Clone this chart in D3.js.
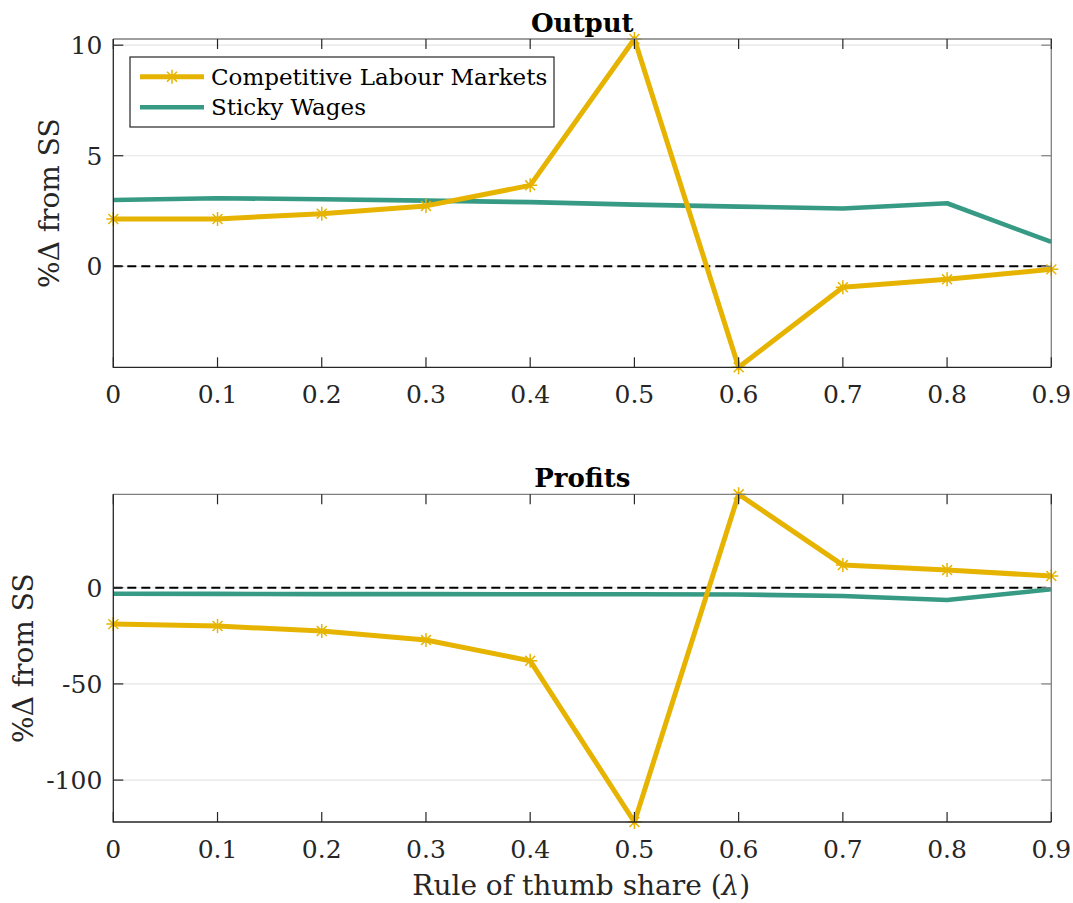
<!DOCTYPE html>
<html>
<head>
<meta charset="utf-8">
<script src="https://cdn.jsdelivr.net/npm/d3@7"></script>
<style>
  body { margin: 0; background: #fff; }
  svg { display: block; font-family: "DejaVu Serif", serif; }
</style>
</head>
<body>
<div id="chart"></div>
<script>
// Rule of thumb share (lambda)
const lambdas = [0, 0.1, 0.2, 0.3, 0.4, 0.5, 0.6, 0.7, 0.8, 0.9];
const xTickLabels = ['0', '0.1', '0.2', '0.3', '0.4', '0.5', '0.6', '0.7', '0.8', '0.9'];

// Output, % change from steady state
const outputCompetitive = [2.14, 2.14, 2.38, 2.73, 3.66, 10.28, -4.57, -0.95, -0.59, -0.14];
const outputSticky = [3.0, 3.08, 3.03, 2.97, 2.9, 2.79, 2.7, 2.61, 2.85, 1.1];
const outputTicks = [0, 5, 10];

// Profits, % change from steady state
const profitsCompetitive = [-18.9, -19.9, -22.5, -27.2, -38.0, -121.8, 48.6, 11.8, 9.2, 6.1];
const profitsSticky = [-3.1, -3.2, -3.3, -3.3, -3.4, -3.4, -3.5, -4.3, -6.4, -0.8];
const profitsTicks = [-100, -50, 0];

const seriesNames = ['Competitive Labour Markets', 'Sticky Wages'];
const colors = { comp: '#e6b400', sticky: '#379a84' };

const W = 1073, H = 903;
const left = 113.3, right = 1051.3;

const svg = d3.select('#chart').append('svg')
  .attr('width', W).attr('height', H);

const x = d3.scaleLinear().domain([0, 0.9]).range([left, right]);

// asterisk marker path
function star(r) {
  const d = r * Math.SQRT1_2;
  return `M0,${-r}V${r}M${-r},0H${r}M${-d},${-d}L${d},${d}M${-d},${d}L${d},${-d}`;
}

function panel(cfg) {
  const { top, bottom, comp, sticky, ticks, title, titleY, ylabX } = cfg;
  const all = comp.concat(sticky);
  const y = d3.scaleLinear().domain(d3.extent(all)).range([bottom, top]);
  const g = svg.append('g');

  // grid
  g.selectAll('.grid').data(ticks).enter().append('line')
    .attr('x1', left).attr('x2', right)
    .attr('y1', d => y(d)).attr('y2', d => y(d))
    .attr('stroke', '#e5e5e5').attr('stroke-width', 1.2);

  // zero line
  g.append('line')
    .attr('x1', left).attr('x2', right)
    .attr('y1', y(0)).attr('y2', y(0))
    .attr('stroke', '#000').attr('stroke-width', 2)
    .attr('stroke-dasharray', '9,5');

  const line = vals => d3.line().x((d, i) => x(lambdas[i])).y(d => y(d))(vals);

  g.append('path').attr('d', line(sticky))
    .attr('fill', 'none').attr('stroke', colors.sticky)
    .attr('stroke-width', 4.6).attr('stroke-linejoin', 'round');

  g.append('path').attr('d', line(comp))
    .attr('fill', 'none').attr('stroke', colors.comp)
    .attr('stroke-width', 5).attr('stroke-linejoin', 'round');

  g.selectAll('.mk').data(comp).enter().append('path')
    .attr('transform', (d, i) => `translate(${x(lambdas[i])},${y(d)})`)
    .attr('d', star(7))
    .attr('fill', 'none').attr('stroke', colors.comp).attr('stroke-width', 1.5);

  // box: top/right lighter
  g.append('path')
    .attr('d', `M${left},${top}H${right}V${bottom}`)
    .attr('fill', 'none').attr('stroke', '#808080').attr('stroke-width', 1.3);
  g.append('path')
    .attr('d', `M${left},${top}V${bottom}H${right}`)
    .attr('fill', 'none').attr('stroke', '#262626').attr('stroke-width', 1.3);

  // x ticks (inward, bottom and top)
  const xt = g.selectAll('.xt').data(lambdas).enter();
  xt.append('line')
    .attr('x1', d => x(d)).attr('x2', d => x(d))
    .attr('y1', bottom).attr('y2', bottom - 10)
    .attr('stroke', '#262626').attr('stroke-width', 1.2);
  xt.append('line')
    .attr('x1', d => x(d)).attr('x2', d => x(d))
    .attr('y1', top).attr('y2', top + 10)
    .attr('stroke', '#262626').attr('stroke-width', 1.2);
  xt.append('text')
    .attr('x', d => x(d)).attr('y', bottom + 36)
    .attr('text-anchor', 'middle')
    .attr('font-size', 25).attr('fill', '#262626')
    .text((d, i) => xTickLabels[i]);

  // y ticks
  const yt = g.selectAll('.yt').data(ticks).enter();
  yt.append('line')
    .attr('x1', left).attr('x2', left + 10)
    .attr('y1', d => y(d)).attr('y2', d => y(d))
    .attr('stroke', '#262626').attr('stroke-width', 1.2);
  yt.append('line')
    .attr('x1', right).attr('x2', right - 10)
    .attr('y1', d => y(d)).attr('y2', d => y(d))
    .attr('stroke', '#808080').attr('stroke-width', 1.2);
  yt.append('text')
    .attr('x', left - 11).attr('y', d => y(d))
    .attr('dy', '0.36em')
    .attr('text-anchor', 'end')
    .attr('font-size', 25).attr('fill', '#262626')
    .text(d => d);

  // title
  g.append('text')
    .attr('x', (left + right) / 2).attr('y', titleY)
    .attr('text-anchor', 'middle')
    .attr('font-size', 26).attr('font-weight', 'bold').attr('fill', '#000')
    .text(title);

  // y label
  g.append('text')
    .attr('transform', `translate(${ylabX},${(top + bottom) / 2}) rotate(-90)`)
    .attr('text-anchor', 'middle')
    .attr('font-size', 28).attr('fill', '#262626')
    .text('%\u0394 from SS');
}

panel({
  top: 39, bottom: 367.3,
  comp: outputCompetitive, sticky: outputSticky,
  ticks: outputTicks, title: 'Output', titleY: 31.5, ylabX: 59
});

panel({
  top: 494.3, bottom: 822,
  comp: profitsCompetitive, sticky: profitsSticky,
  ticks: profitsTicks, title: 'Profits', titleY: 486.5, ylabX: 33
});

// x axis label
const xl = svg.append('text')
  .attr('x', (left + right) / 2 - 1).attr('y', 895)
  .attr('text-anchor', 'middle')
  .attr('font-size', 28).attr('fill', '#262626');
xl.append('tspan').text('Rule of thumb share (');
xl.append('tspan').attr('font-style', 'italic').text('\u03bb');
xl.append('tspan').text(')');

// legend
const leg = svg.append('g');
leg.append('rect')
  .attr('x', 130).attr('y', 57).attr('width', 424).attr('height', 70)
  .attr('fill', '#fff').attr('stroke', '#262626').attr('stroke-width', 1.2);

const legRows = [
  { name: seriesNames[0], color: colors.comp, w: 5, marker: true, y: 76.7 },
  { name: seriesNames[1], color: colors.sticky, w: 4.6, marker: false, y: 107.3 }
];
legRows.forEach(r => {
  leg.append('line')
    .attr('x1', 140).attr('x2', 204).attr('y1', r.y).attr('y2', r.y)
    .attr('stroke', r.color).attr('stroke-width', r.w);
  if (r.marker) {
    leg.append('path')
      .attr('transform', `translate(172,${r.y})`)
      .attr('d', star(7))
      .attr('fill', 'none').attr('stroke', r.color).attr('stroke-width', 1.5);
  }
  leg.append('text')
    .attr('x', 211).attr('y', r.y).attr('dy', '0.35em')
    .attr('font-size', 23).attr('fill', '#000')
    .text(r.name);
});
</script>
</body>
</html>
